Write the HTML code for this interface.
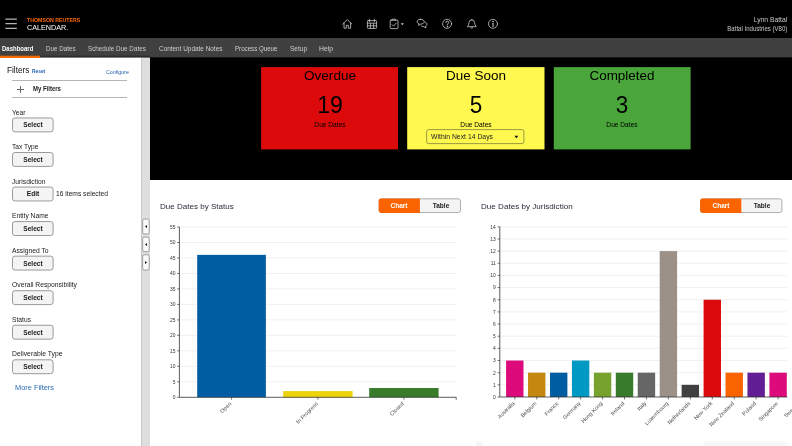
<!DOCTYPE html>
<html lang="en">
<head>
<meta charset="utf-8">
<title>Calendar Dashboard</title>
<style>
html,body{margin:0;padding:0;}
body{width:792px;height:446px;overflow:hidden;position:relative;background:#fff;font-family:"Liberation Sans",sans-serif;}
.t{position:absolute;white-space:nowrap;display:block;}
.abs{position:absolute;}
#topbar{left:0;top:0;width:792px;height:38px;background:#000;}
#nav{left:0;top:38px;width:792px;height:19px;background:#404040;}
#side{left:0;top:57px;width:141px;height:389px;background:#fff;}
#split{left:141px;top:57px;width:9px;height:389px;background:#dedede;}
#black{left:150px;top:57px;width:642px;height:122.6px;background:#000;}
.hr{position:absolute;left:12px;width:114.7px;height:0.8px;background:#b5b5b5;}
svg{position:absolute;left:0;top:0;overflow:visible;}
svg text{font-family:"Liberation Sans",sans-serif;}
</style>
</head>
<body>
<div id="topbar" class="abs"></div>
<div id="nav" class="abs"></div>
<div id="side" class="abs"></div>
<div id="split" class="abs"></div>
<div class="abs" style="left:141px;top:57.5px;width:1.4px;height:389px;background:#c6c6c6;"></div>
<div id="black" class="abs"></div>
<svg width="792" height="60" viewBox="0 0 792 60"><rect x="150" y="56.5" width="642" height="0.8" fill="#404040"/><rect x="40" y="55.7" width="110.1" height="1.9" fill="#2c2c2c"/><rect x="0" y="55.7" width="40.1" height="2.25" fill="#fa6400"/></svg>
<svg width="792" height="40" viewBox="0 0 792 40" stroke="#b4b4b4" stroke-width="1.2"><path d="M5.4 19.1 H16.8 M5.4 23.7 H16.8 M5.4 28.3 H16.8"/></svg>
<span class="t" style="left:27.00px;transform-origin:0 50%;top:16.92px;font-size:6.0px;line-height:6.0px;color:#ff6a08;font-weight:bold;transform:scaleX(0.8735);">THOMSON REUTERS</span>
<span class="t" style="left:27.00px;transform-origin:0 50%;top:24.13px;font-size:8.0px;line-height:8.0px;color:#fff;font-weight:normal;transform:scaleX(0.8996);">CALENDAR.</span>
<span class="t" style="right:5.20px;transform-origin:100% 50%;top:17.36px;font-size:6.9px;line-height:6.9px;color:#c8c8c8;font-weight:normal;transform:scaleX(0.9815);">Lynn Battal</span>
<span class="t" style="right:5.20px;transform-origin:100% 50%;top:26.17px;font-size:6.3px;line-height:6.3px;color:#c8c8c8;font-weight:normal;transform:scaleX(0.9629);">Battal Industries (V80)</span>
<svg width="792" height="40" viewBox="0 0 792 40" fill="none" stroke="#c0c0c0" stroke-width="0.85" stroke-linecap="round" stroke-linejoin="round">
<!-- home -->
<path d="M342.8 24 L347.3 19.6 L351.8 24 M344 23 V28.2 H346.3 V25.3 H348.3 V28.2 H350.6 V23"/>
<!-- calendar -->
<rect x="367.4" y="20.6" width="9.2" height="7.8" rx="0.8"/>
<path d="M369.6 19.2 V21.6 M374.4 19.2 V21.6 M367.4 23.2 H376.6 M370.4 23.2 V28.4 M373.6 23.2 V28.4 M367.4 25.8 H376.6" stroke-width="0.8"/>
<!-- clipboard check -->
<rect x="390.2" y="20.2" width="7.8" height="8.4" rx="0.8"/>
<path d="M392.2 20.2 V19.2 H395.6 V20.2" />
<path d="M392 24.6 L393.5 26.1 L396.2 23.1"/>
<path d="M400.6 23.2 H404 L402.3 25.2 Z" fill="#bdbdbd" stroke="none"/>
<!-- chat -->
<path d="M420.4 19.3 C423 19.3 424.2 20.4 424.2 21.7 C424.2 23.1 423 24.1 420.6 24.1 L418.6 25.4 L418.9 23.7 C417.6 23.2 417.1 22.5 417.1 21.7 C417.1 20.4 418.3 19.3 420.4 19.3 Z"/>
<path d="M425.3 22.2 C426.4 22.6 427 23.4 427 24.3 C427 25.1 426.5 25.8 425.6 26.2 L426 27.9 L423.9 26.7 C422.6 26.7 421.6 26.3 421 25.6"/>
<!-- help -->
<circle cx="447.1" cy="23.8" r="4.5"/>
<path d="M445.8 22.6 Q445.8 21.2 447.3 21.2 Q448.8 21.2 448.8 22.5 Q448.8 23.4 447.3 24.2 V25" stroke-width="0.9"/>
<circle cx="447.3" cy="26.6" r="0.35" fill="#c0c0c0"/>
<!-- bell -->
<path d="M467.6 26.4 Q469 25 469 22.6 Q469 20 471.8 20 Q474.6 20 474.6 22.6 Q474.6 25 476 26.4 Z"/>
<path d="M470.8 27.8 Q471.8 28.8 472.8 27.8 M471.8 19.2 V20"/>
<!-- info -->
<circle cx="493" cy="23.8" r="4.5"/>
<path d="M493 23.2 V26.4" stroke-width="1.1"/>
<circle cx="493" cy="21.4" r="0.4" fill="#c0c0c0"/>
</svg>
<span class="t" style="left:2.00px;transform-origin:0 50%;top:44.87px;font-size:7.0px;line-height:7.0px;color:#fff;font-weight:bold;transform:scaleX(0.8561);">Dashboard</span>
<span class="t" style="left:46.20px;transform-origin:0 50%;top:44.62px;font-size:7.3px;line-height:7.3px;color:#cfcfcf;font-weight:normal;transform:scaleX(0.8584);">Due Dates</span>
<span class="t" style="left:88.40px;transform-origin:0 50%;top:44.62px;font-size:7.3px;line-height:7.3px;color:#cfcfcf;font-weight:normal;transform:scaleX(0.8635);">Schedule Due Dates</span>
<span class="t" style="left:158.80px;transform-origin:0 50%;top:44.62px;font-size:7.3px;line-height:7.3px;color:#cfcfcf;font-weight:normal;transform:scaleX(0.8781);">Content Update Notes</span>
<span class="t" style="left:235.40px;transform-origin:0 50%;top:44.62px;font-size:7.3px;line-height:7.3px;color:#cfcfcf;font-weight:normal;transform:scaleX(0.8430);">Process Queue</span>
<span class="t" style="left:290.00px;transform-origin:0 50%;top:44.62px;font-size:7.3px;line-height:7.3px;color:#cfcfcf;font-weight:normal;transform:scaleX(0.8911);">Setup</span>
<span class="t" style="left:319.20px;transform-origin:0 50%;top:44.62px;font-size:7.3px;line-height:7.3px;color:#cfcfcf;font-weight:normal;transform:scaleX(0.9390);">Help</span>
<span class="t" style="left:7.30px;transform-origin:0 50%;top:66.25px;font-size:8.8px;line-height:8.8px;color:#111;font-weight:normal;transform:scaleX(0.9352);">Filters</span>
<span class="t" style="left:32.30px;transform-origin:0 50%;top:68.93px;font-size:5.4px;line-height:5.4px;color:#1f5fae;font-weight:bold;transform:scaleX(0.8987);">Reset</span>
<span class="t" style="left:106.00px;transform-origin:0 50%;top:68.62px;font-size:6.0px;line-height:6.0px;color:#1f5fae;font-weight:normal;transform:scaleX(0.8802);">Configure</span>
<div class="hr" style="top:80.2px;"></div>
<div class="hr" style="top:96.9px;"></div>
<div class="abs" style="left:16.9px;top:89.1px;width:6.8px;height:0.6px;background:#666;"></div>
<div class="abs" style="left:20px;top:86px;width:0.6px;height:6.8px;background:#666;"></div>
<span class="t" style="left:33.30px;transform-origin:0 50%;top:86.41px;font-size:6.6px;line-height:6.6px;color:#1a1a1a;font-weight:bold;transform:scaleX(0.9064);">My Filters</span>
<span class="t" style="left:12.10px;transform-origin:0 50%;top:108.54px;font-size:7.4px;line-height:7.4px;color:#1a1a1a;font-weight:normal;transform:scaleX(0.9105);">Year</span>
<svg width="792" height="446" viewBox="0 0 792 446"><rect x="12.5" y="117.95" width="40.6" height="13.9" rx="2.4" fill="#f4f4f4" stroke="#8f8f8f" stroke-width="0.9"/></svg>
<span class="t" style="left:32.80px;transform-origin:50% 50%;top:122.31px;font-size:6.6px;line-height:6.6px;color:#1a1a1a;font-weight:bold;transform:translateX(-50%) scaleX(1.0032);">Select</span>
<span class="t" style="left:12.10px;transform-origin:0 50%;top:143.09px;font-size:7.4px;line-height:7.4px;color:#1a1a1a;font-weight:normal;transform:scaleX(0.8997);">Tax Type</span>
<svg width="792" height="446" viewBox="0 0 792 446"><rect x="12.5" y="152.50" width="40.6" height="13.9" rx="2.4" fill="#f4f4f4" stroke="#8f8f8f" stroke-width="0.9"/></svg>
<span class="t" style="left:32.80px;transform-origin:50% 50%;top:156.86px;font-size:6.6px;line-height:6.6px;color:#1a1a1a;font-weight:bold;transform:translateX(-50%) scaleX(1.0032);">Select</span>
<span class="t" style="left:12.10px;transform-origin:0 50%;top:177.64px;font-size:7.4px;line-height:7.4px;color:#1a1a1a;font-weight:normal;transform:scaleX(0.9062);">Jurisdiction</span>
<svg width="792" height="446" viewBox="0 0 792 446"><rect x="12.5" y="187.05" width="40.6" height="13.9" rx="2.4" fill="#f4f4f4" stroke="#8f8f8f" stroke-width="0.9"/></svg>
<span class="t" style="left:32.80px;transform-origin:50% 50%;top:191.41px;font-size:6.6px;line-height:6.6px;color:#1a1a1a;font-weight:bold;transform:translateX(-50%) scaleX(1.0025);">Edit</span>
<span class="t" style="left:56.20px;transform-origin:0 50%;top:190.17px;font-size:7.0px;line-height:7.0px;color:#1a1a1a;font-weight:normal;transform:scaleX(0.9544);">16 items selected</span>
<span class="t" style="left:12.10px;transform-origin:0 50%;top:212.19px;font-size:7.4px;line-height:7.4px;color:#1a1a1a;font-weight:normal;transform:scaleX(0.9065);">Entity Name</span>
<svg width="792" height="446" viewBox="0 0 792 446"><rect x="12.5" y="221.60" width="40.6" height="13.9" rx="2.4" fill="#f4f4f4" stroke="#8f8f8f" stroke-width="0.9"/></svg>
<span class="t" style="left:32.80px;transform-origin:50% 50%;top:225.96px;font-size:6.6px;line-height:6.6px;color:#1a1a1a;font-weight:bold;transform:translateX(-50%) scaleX(1.0032);">Select</span>
<span class="t" style="left:12.10px;transform-origin:0 50%;top:246.74px;font-size:7.4px;line-height:7.4px;color:#1a1a1a;font-weight:normal;transform:scaleX(0.9093);">Assigned To</span>
<svg width="792" height="446" viewBox="0 0 792 446"><rect x="12.5" y="256.15" width="40.6" height="13.9" rx="2.4" fill="#f4f4f4" stroke="#8f8f8f" stroke-width="0.9"/></svg>
<span class="t" style="left:32.80px;transform-origin:50% 50%;top:260.51px;font-size:6.6px;line-height:6.6px;color:#1a1a1a;font-weight:bold;transform:translateX(-50%) scaleX(1.0032);">Select</span>
<span class="t" style="left:12.10px;transform-origin:0 50%;top:281.29px;font-size:7.4px;line-height:7.4px;color:#1a1a1a;font-weight:normal;transform:scaleX(0.9147);">Overall Responsibility</span>
<svg width="792" height="446" viewBox="0 0 792 446"><rect x="12.5" y="290.70" width="40.6" height="13.9" rx="2.4" fill="#f4f4f4" stroke="#8f8f8f" stroke-width="0.9"/></svg>
<span class="t" style="left:32.80px;transform-origin:50% 50%;top:295.06px;font-size:6.6px;line-height:6.6px;color:#1a1a1a;font-weight:bold;transform:translateX(-50%) scaleX(1.0032);">Select</span>
<span class="t" style="left:12.10px;transform-origin:0 50%;top:315.84px;font-size:7.4px;line-height:7.4px;color:#1a1a1a;font-weight:normal;transform:scaleX(0.9068);">Status</span>
<svg width="792" height="446" viewBox="0 0 792 446"><rect x="12.5" y="325.25" width="40.6" height="13.9" rx="2.4" fill="#f4f4f4" stroke="#8f8f8f" stroke-width="0.9"/></svg>
<span class="t" style="left:32.80px;transform-origin:50% 50%;top:329.61px;font-size:6.6px;line-height:6.6px;color:#1a1a1a;font-weight:bold;transform:translateX(-50%) scaleX(1.0032);">Select</span>
<span class="t" style="left:12.10px;transform-origin:0 50%;top:350.39px;font-size:7.4px;line-height:7.4px;color:#1a1a1a;font-weight:normal;transform:scaleX(0.9195);">Deliverable Type</span>
<svg width="792" height="446" viewBox="0 0 792 446"><rect x="12.5" y="359.80" width="40.6" height="13.9" rx="2.4" fill="#f4f4f4" stroke="#8f8f8f" stroke-width="0.9"/></svg>
<span class="t" style="left:32.80px;transform-origin:50% 50%;top:364.16px;font-size:6.6px;line-height:6.6px;color:#1a1a1a;font-weight:bold;transform:translateX(-50%) scaleX(1.0032);">Select</span>
<span class="t" style="left:14.50px;transform-origin:0 50%;top:383.94px;font-size:7.4px;line-height:7.4px;color:#2a6db5;font-weight:normal;transform:scaleX(0.9996);">More Filters</span>
<svg width="792" height="446" viewBox="0 0 792 446"><rect x="142.7" y="219.10" width="6.5" height="14.80" rx="1.4" fill="#fbfbfb" stroke="#8a8a8a" stroke-width="0.8"/></svg>
<svg width="792" height="446"><path d="M147 225.00 L145 226.50 L147 228.00 Z" fill="#111"/></svg>
<svg width="792" height="446" viewBox="0 0 792 446"><rect x="142.7" y="237.20" width="6.5" height="14.40" rx="1.4" fill="#fbfbfb" stroke="#8a8a8a" stroke-width="0.8"/></svg>
<svg width="792" height="446"><path d="M147 242.90 L145 244.40 L147 245.90 Z" fill="#111"/></svg>
<svg width="792" height="446" viewBox="0 0 792 446"><rect x="142.7" y="254.80" width="6.5" height="15.20" rx="1.4" fill="#fbfbfb" stroke="#8a8a8a" stroke-width="0.8"/></svg>
<svg width="792" height="446"><path d="M145 260.90 L147 262.40 L145 263.90 Z" fill="#111"/></svg>
<svg width="792" height="446" viewBox="0 0 792 446"><rect x="261.1" y="67.1" width="136.9" height="82.3" fill="#dc0a0a"/></svg>
<span class="t" style="left:329.55px;transform-origin:50% 50%;top:69.16px;font-size:13.4px;line-height:13.4px;color:#000;font-weight:normal;transform:translateX(-50%) scaleX(1.0125);">Overdue</span>
<span class="t" style="left:329.55px;transform-origin:50% 50%;top:93.38px;font-size:24.6px;line-height:24.6px;color:#000;font-weight:normal;transform:translateX(-50%) scaleX(0.9393);">19</span>
<span class="t" style="left:329.55px;transform-origin:50% 50%;top:122.04px;font-size:6.8px;line-height:6.8px;color:#000;font-weight:normal;transform:translateX(-50%) scaleX(0.9743);">Due Dates</span>
<svg width="792" height="446" viewBox="0 0 792 446"><rect x="407.2" y="67.1" width="137.3" height="82.3" fill="#fff84f"/></svg>
<span class="t" style="left:475.85px;transform-origin:50% 50%;top:69.16px;font-size:13.4px;line-height:13.4px;color:#000;font-weight:normal;transform:translateX(-50%) scaleX(1.0073);">Due Soon</span>
<span class="t" style="left:475.85px;transform-origin:50% 50%;top:93.38px;font-size:24.6px;line-height:24.6px;color:#000;font-weight:normal;transform:translateX(-50%) scaleX(0.9132);">5</span>
<span class="t" style="left:475.85px;transform-origin:50% 50%;top:122.04px;font-size:6.8px;line-height:6.8px;color:#000;font-weight:normal;transform:translateX(-50%) scaleX(0.9743);">Due Dates</span>
<svg width="792" height="446" viewBox="0 0 792 446"><rect x="553.8" y="67.1" width="136.8" height="82.3" fill="#4aa63a"/></svg>
<span class="t" style="left:622.20px;transform-origin:50% 50%;top:69.16px;font-size:13.4px;line-height:13.4px;color:#000;font-weight:normal;transform:translateX(-50%) scaleX(1.0036);">Completed</span>
<span class="t" style="left:622.20px;transform-origin:50% 50%;top:93.38px;font-size:24.6px;line-height:24.6px;color:#000;font-weight:normal;transform:translateX(-50%) scaleX(0.9132);">3</span>
<span class="t" style="left:622.20px;transform-origin:50% 50%;top:122.04px;font-size:6.8px;line-height:6.8px;color:#000;font-weight:normal;transform:translateX(-50%) scaleX(0.9743);">Due Dates</span>
<svg width="792" height="446" viewBox="0 0 792 446"><rect x="426.7" y="129.6" width="97.2" height="14" rx="2" fill="#fff84f" stroke="#8f8e40" stroke-width="0.9"/></svg>
<span class="t" style="left:430.50px;transform-origin:0 50%;top:133.93px;font-size:6.7px;line-height:6.7px;color:#222;font-weight:normal;transform:scaleX(1.0232);">Within Next 14 Days</span>
<svg width="792" height="446"><path d="M514.4 135.8 H518.4 L516.4 138.2 Z" fill="#111"/></svg>
<span class="t" style="left:160.20px;transform-origin:0 50%;top:202.83px;font-size:8.0px;line-height:8.0px;color:#2b2b3a;font-weight:normal;transform:scaleX(1.0058);">Due Dates by Status</span>
<span class="t" style="left:480.80px;transform-origin:0 50%;top:202.83px;font-size:8.0px;line-height:8.0px;color:#2b2b3a;font-weight:normal;transform:scaleX(1.0108);">Due Dates by Jurisdiction</span>
<svg width="792" height="446" viewBox="0 0 792 446"><rect x="379.15" y="198.85" width="81.4" height="13.7" rx="2.4" fill="#f4f4f4" stroke="#a5a5a5" stroke-width="0.9"/><path d="M381.10 198.4 H419.90 V213 H381.10 Q378.70 213 378.70 210.6 V200.8 Q378.70 198.4 381.10 198.4 Z" fill="#fa6400"/></svg>
<span class="t" style="left:399.30px;transform-origin:50% 50%;top:203.01px;font-size:6.6px;line-height:6.6px;color:#fff;font-weight:bold;transform:translateX(-50%) scaleX(0.9873);">Chart</span>
<span class="t" style="left:440.50px;transform-origin:50% 50%;top:203.01px;font-size:6.6px;line-height:6.6px;color:#222;font-weight:bold;transform:translateX(-50%) scaleX(0.9860);">Table</span>
<svg width="792" height="446" viewBox="0 0 792 446"><rect x="700.55" y="198.85" width="81.4" height="13.7" rx="2.4" fill="#f4f4f4" stroke="#a5a5a5" stroke-width="0.9"/><path d="M702.50 198.4 H741.30 V213 H702.50 Q700.10 213 700.10 210.6 V200.8 Q700.10 198.4 702.50 198.4 Z" fill="#fa6400"/></svg>
<span class="t" style="left:720.70px;transform-origin:50% 50%;top:203.01px;font-size:6.6px;line-height:6.6px;color:#fff;font-weight:bold;transform:translateX(-50%) scaleX(0.9873);">Chart</span>
<span class="t" style="left:761.90px;transform-origin:50% 50%;top:203.01px;font-size:6.6px;line-height:6.6px;color:#222;font-weight:bold;transform:translateX(-50%) scaleX(0.9860);">Table</span>
<svg width="792" height="446" viewBox="0 0 792 446">
<line x1="177.20" y1="397.30" x2="179.4" y2="397.30" stroke="#333" stroke-width="0.7"/>
<text x="175.40" y="399.20" font-size="4.9" fill="#333" text-anchor="end">0</text>
<line x1="179.4" y1="381.82" x2="456.2" y2="381.82" stroke="#ececec" stroke-width="0.8"/>
<line x1="177.20" y1="381.82" x2="179.4" y2="381.82" stroke="#333" stroke-width="0.7"/>
<text x="175.40" y="383.72" font-size="4.9" fill="#333" text-anchor="end">5</text>
<line x1="179.4" y1="366.34" x2="456.2" y2="366.34" stroke="#ececec" stroke-width="0.8"/>
<line x1="177.20" y1="366.34" x2="179.4" y2="366.34" stroke="#333" stroke-width="0.7"/>
<text x="175.40" y="368.24" font-size="4.9" fill="#333" text-anchor="end">10</text>
<line x1="179.4" y1="350.85" x2="456.2" y2="350.85" stroke="#ececec" stroke-width="0.8"/>
<line x1="177.20" y1="350.85" x2="179.4" y2="350.85" stroke="#333" stroke-width="0.7"/>
<text x="175.40" y="352.75" font-size="4.9" fill="#333" text-anchor="end">15</text>
<line x1="179.4" y1="335.37" x2="456.2" y2="335.37" stroke="#ececec" stroke-width="0.8"/>
<line x1="177.20" y1="335.37" x2="179.4" y2="335.37" stroke="#333" stroke-width="0.7"/>
<text x="175.40" y="337.27" font-size="4.9" fill="#333" text-anchor="end">20</text>
<line x1="179.4" y1="319.89" x2="456.2" y2="319.89" stroke="#ececec" stroke-width="0.8"/>
<line x1="177.20" y1="319.89" x2="179.4" y2="319.89" stroke="#333" stroke-width="0.7"/>
<text x="175.40" y="321.79" font-size="4.9" fill="#333" text-anchor="end">25</text>
<line x1="179.4" y1="304.41" x2="456.2" y2="304.41" stroke="#ececec" stroke-width="0.8"/>
<line x1="177.20" y1="304.41" x2="179.4" y2="304.41" stroke="#333" stroke-width="0.7"/>
<text x="175.40" y="306.31" font-size="4.9" fill="#333" text-anchor="end">30</text>
<line x1="179.4" y1="288.93" x2="456.2" y2="288.93" stroke="#ececec" stroke-width="0.8"/>
<line x1="177.20" y1="288.93" x2="179.4" y2="288.93" stroke="#333" stroke-width="0.7"/>
<text x="175.40" y="290.83" font-size="4.9" fill="#333" text-anchor="end">35</text>
<line x1="179.4" y1="273.45" x2="456.2" y2="273.45" stroke="#ececec" stroke-width="0.8"/>
<line x1="177.20" y1="273.45" x2="179.4" y2="273.45" stroke="#333" stroke-width="0.7"/>
<text x="175.40" y="275.35" font-size="4.9" fill="#333" text-anchor="end">40</text>
<line x1="179.4" y1="257.96" x2="456.2" y2="257.96" stroke="#ececec" stroke-width="0.8"/>
<line x1="177.20" y1="257.96" x2="179.4" y2="257.96" stroke="#333" stroke-width="0.7"/>
<text x="175.40" y="259.86" font-size="4.9" fill="#333" text-anchor="end">45</text>
<line x1="179.4" y1="242.48" x2="456.2" y2="242.48" stroke="#ececec" stroke-width="0.8"/>
<line x1="177.20" y1="242.48" x2="179.4" y2="242.48" stroke="#333" stroke-width="0.7"/>
<text x="175.40" y="244.38" font-size="4.9" fill="#333" text-anchor="end">50</text>
<line x1="179.4" y1="227.00" x2="456.2" y2="227.00" stroke="#ececec" stroke-width="0.8"/>
<line x1="177.20" y1="227.00" x2="179.4" y2="227.00" stroke="#333" stroke-width="0.7"/>
<text x="175.40" y="228.90" font-size="4.9" fill="#333" text-anchor="end">55</text>
<rect x="197.2" y="254.87" width="68.7" height="142.43" fill="#005da2"/>
<rect x="283.2" y="391.11" width="69.4" height="6.19" fill="#edd20c"/>
<rect x="369.2" y="388.01" width="69.4" height="9.29" fill="#387c2b"/>
<path d="M179.4 227 V397.3 H456.2 V399.7" fill="none" stroke="#333" stroke-width="0.8"/>
<line x1="231.55" y1="397.3" x2="231.55" y2="399.7" stroke="#333" stroke-width="0.7"/>
<text transform="translate(231.85,404.10) rotate(-45)" font-size="5.5" fill="#4a4a4a" text-anchor="end">Open</text>
<line x1="317.90" y1="397.3" x2="317.90" y2="399.7" stroke="#333" stroke-width="0.7"/>
<text transform="translate(318.20,404.10) rotate(-45)" font-size="5.5" fill="#4a4a4a" text-anchor="end">In Progress</text>
<line x1="403.90" y1="397.3" x2="403.90" y2="399.7" stroke="#333" stroke-width="0.7"/>
<text transform="translate(404.20,404.10) rotate(-45)" font-size="5.5" fill="#4a4a4a" text-anchor="end">Closed</text>
</svg>
<svg width="792" height="446" viewBox="0 0 792 446">
<line x1="497.60" y1="397.00" x2="499.8" y2="397.00" stroke="#333" stroke-width="0.7"/>
<text x="495.80" y="398.90" font-size="4.9" fill="#333" text-anchor="end">0</text>
<line x1="499.8" y1="384.84" x2="787.3" y2="384.84" stroke="#ececec" stroke-width="0.8"/>
<line x1="497.60" y1="384.84" x2="499.8" y2="384.84" stroke="#333" stroke-width="0.7"/>
<text x="495.80" y="386.74" font-size="4.9" fill="#333" text-anchor="end">1</text>
<line x1="499.8" y1="372.69" x2="787.3" y2="372.69" stroke="#ececec" stroke-width="0.8"/>
<line x1="497.60" y1="372.69" x2="499.8" y2="372.69" stroke="#333" stroke-width="0.7"/>
<text x="495.80" y="374.59" font-size="4.9" fill="#333" text-anchor="end">2</text>
<line x1="499.8" y1="360.53" x2="787.3" y2="360.53" stroke="#ececec" stroke-width="0.8"/>
<line x1="497.60" y1="360.53" x2="499.8" y2="360.53" stroke="#333" stroke-width="0.7"/>
<text x="495.80" y="362.43" font-size="4.9" fill="#333" text-anchor="end">3</text>
<line x1="499.8" y1="348.37" x2="787.3" y2="348.37" stroke="#ececec" stroke-width="0.8"/>
<line x1="497.60" y1="348.37" x2="499.8" y2="348.37" stroke="#333" stroke-width="0.7"/>
<text x="495.80" y="350.27" font-size="4.9" fill="#333" text-anchor="end">4</text>
<line x1="499.8" y1="336.21" x2="787.3" y2="336.21" stroke="#ececec" stroke-width="0.8"/>
<line x1="497.60" y1="336.21" x2="499.8" y2="336.21" stroke="#333" stroke-width="0.7"/>
<text x="495.80" y="338.11" font-size="4.9" fill="#333" text-anchor="end">5</text>
<line x1="499.8" y1="324.06" x2="787.3" y2="324.06" stroke="#ececec" stroke-width="0.8"/>
<line x1="497.60" y1="324.06" x2="499.8" y2="324.06" stroke="#333" stroke-width="0.7"/>
<text x="495.80" y="325.96" font-size="4.9" fill="#333" text-anchor="end">6</text>
<line x1="499.8" y1="311.90" x2="787.3" y2="311.90" stroke="#ececec" stroke-width="0.8"/>
<line x1="497.60" y1="311.90" x2="499.8" y2="311.90" stroke="#333" stroke-width="0.7"/>
<text x="495.80" y="313.80" font-size="4.9" fill="#333" text-anchor="end">7</text>
<line x1="499.8" y1="299.74" x2="787.3" y2="299.74" stroke="#ececec" stroke-width="0.8"/>
<line x1="497.60" y1="299.74" x2="499.8" y2="299.74" stroke="#333" stroke-width="0.7"/>
<text x="495.80" y="301.64" font-size="4.9" fill="#333" text-anchor="end">8</text>
<line x1="499.8" y1="287.59" x2="787.3" y2="287.59" stroke="#ececec" stroke-width="0.8"/>
<line x1="497.60" y1="287.59" x2="499.8" y2="287.59" stroke="#333" stroke-width="0.7"/>
<text x="495.80" y="289.49" font-size="4.9" fill="#333" text-anchor="end">9</text>
<line x1="499.8" y1="275.43" x2="787.3" y2="275.43" stroke="#ececec" stroke-width="0.8"/>
<line x1="497.60" y1="275.43" x2="499.8" y2="275.43" stroke="#333" stroke-width="0.7"/>
<text x="495.80" y="277.33" font-size="4.9" fill="#333" text-anchor="end">10</text>
<line x1="499.8" y1="263.27" x2="787.3" y2="263.27" stroke="#ececec" stroke-width="0.8"/>
<line x1="497.60" y1="263.27" x2="499.8" y2="263.27" stroke="#333" stroke-width="0.7"/>
<text x="495.80" y="265.17" font-size="4.9" fill="#333" text-anchor="end">11</text>
<line x1="499.8" y1="251.11" x2="787.3" y2="251.11" stroke="#ececec" stroke-width="0.8"/>
<line x1="497.60" y1="251.11" x2="499.8" y2="251.11" stroke="#333" stroke-width="0.7"/>
<text x="495.80" y="253.01" font-size="4.9" fill="#333" text-anchor="end">12</text>
<line x1="499.8" y1="238.96" x2="787.3" y2="238.96" stroke="#ececec" stroke-width="0.8"/>
<line x1="497.60" y1="238.96" x2="499.8" y2="238.96" stroke="#333" stroke-width="0.7"/>
<text x="495.80" y="240.86" font-size="4.9" fill="#333" text-anchor="end">13</text>
<line x1="499.8" y1="226.80" x2="787.3" y2="226.80" stroke="#ececec" stroke-width="0.8"/>
<line x1="497.60" y1="226.80" x2="499.8" y2="226.80" stroke="#333" stroke-width="0.7"/>
<text x="495.80" y="228.70" font-size="4.9" fill="#333" text-anchor="end">14</text>
<rect x="506.10" y="360.53" width="17.4" height="36.47" fill="#dd0a7c"/>
<rect x="528.04" y="372.69" width="17.4" height="24.31" fill="#c4880e"/>
<rect x="549.98" y="372.69" width="17.4" height="24.31" fill="#005da2"/>
<rect x="571.92" y="360.53" width="17.4" height="36.47" fill="#0099c4"/>
<rect x="593.87" y="372.69" width="17.4" height="24.31" fill="#77a22d"/>
<rect x="615.81" y="372.69" width="17.4" height="24.31" fill="#387c2b"/>
<rect x="637.75" y="372.69" width="17.4" height="24.31" fill="#666666"/>
<rect x="659.69" y="251.11" width="17.4" height="145.89" fill="#9c9188"/>
<rect x="681.63" y="384.84" width="17.4" height="12.16" fill="#404040"/>
<rect x="703.58" y="299.74" width="17.4" height="97.26" fill="#dc0a0a"/>
<rect x="725.52" y="372.69" width="17.4" height="24.31" fill="#fa6400"/>
<rect x="747.46" y="372.69" width="17.4" height="24.31" fill="#621f95"/>
<rect x="769.40" y="372.69" width="17.4" height="24.31" fill="#dd0a7c"/>
<path d="M499.8 226.8 V397.0 H787.3" fill="none" stroke="#333" stroke-width="0.8"/>
<line x1="514.80" y1="397.0" x2="514.80" y2="399.4" stroke="#333" stroke-width="0.7"/>
<text transform="translate(515.10,403.80) rotate(-45)" font-size="5.5" fill="#4a4a4a" text-anchor="end">Australia</text>
<line x1="536.74" y1="397.0" x2="536.74" y2="399.4" stroke="#333" stroke-width="0.7"/>
<text transform="translate(537.04,403.80) rotate(-45)" font-size="5.5" fill="#4a4a4a" text-anchor="end">Belgium</text>
<line x1="558.68" y1="397.0" x2="558.68" y2="399.4" stroke="#333" stroke-width="0.7"/>
<text transform="translate(558.98,403.80) rotate(-45)" font-size="5.5" fill="#4a4a4a" text-anchor="end">France</text>
<line x1="580.62" y1="397.0" x2="580.62" y2="399.4" stroke="#333" stroke-width="0.7"/>
<text transform="translate(580.92,403.80) rotate(-45)" font-size="5.5" fill="#4a4a4a" text-anchor="end">Germany</text>
<line x1="602.57" y1="397.0" x2="602.57" y2="399.4" stroke="#333" stroke-width="0.7"/>
<text transform="translate(602.87,403.80) rotate(-45)" font-size="5.5" fill="#4a4a4a" text-anchor="end">Hong Kong</text>
<line x1="624.51" y1="397.0" x2="624.51" y2="399.4" stroke="#333" stroke-width="0.7"/>
<text transform="translate(624.81,403.80) rotate(-45)" font-size="5.5" fill="#4a4a4a" text-anchor="end">Ireland</text>
<line x1="646.45" y1="397.0" x2="646.45" y2="399.4" stroke="#333" stroke-width="0.7"/>
<text transform="translate(646.75,403.80) rotate(-45)" font-size="5.5" fill="#4a4a4a" text-anchor="end">Italy</text>
<line x1="668.39" y1="397.0" x2="668.39" y2="399.4" stroke="#333" stroke-width="0.7"/>
<text transform="translate(668.69,403.80) rotate(-45)" font-size="5.5" fill="#4a4a4a" text-anchor="end">Luxembourg</text>
<line x1="690.33" y1="397.0" x2="690.33" y2="399.4" stroke="#333" stroke-width="0.7"/>
<text transform="translate(690.63,403.80) rotate(-45)" font-size="5.5" fill="#4a4a4a" text-anchor="end">Netherlands</text>
<line x1="712.28" y1="397.0" x2="712.28" y2="399.4" stroke="#333" stroke-width="0.7"/>
<text transform="translate(712.58,403.80) rotate(-45)" font-size="5.5" fill="#4a4a4a" text-anchor="end">New York</text>
<line x1="734.22" y1="397.0" x2="734.22" y2="399.4" stroke="#333" stroke-width="0.7"/>
<text transform="translate(734.52,403.80) rotate(-45)" font-size="5.5" fill="#4a4a4a" text-anchor="end">New Zealand</text>
<line x1="756.16" y1="397.0" x2="756.16" y2="399.4" stroke="#333" stroke-width="0.7"/>
<text transform="translate(756.46,403.80) rotate(-45)" font-size="5.5" fill="#4a4a4a" text-anchor="end">Poland</text>
<line x1="778.10" y1="397.0" x2="778.10" y2="399.4" stroke="#333" stroke-width="0.7"/>
<text transform="translate(778.40,403.80) rotate(-45)" font-size="5.5" fill="#4a4a4a" text-anchor="end">Singapore</text>
<text transform="translate(800.34,403.80) rotate(-45)" font-size="5.5" fill="#4a4a4a" text-anchor="end">Sweden</text>
</svg>
<svg width="792" height="446" viewBox="0 0 792 446"><rect x="476" y="441.6" width="7.4" height="4.4" fill="#f6f6f6"/><rect x="704" y="441.6" width="83.6" height="4.4" fill="#f7f7f7"/></svg>
</body>
</html>
